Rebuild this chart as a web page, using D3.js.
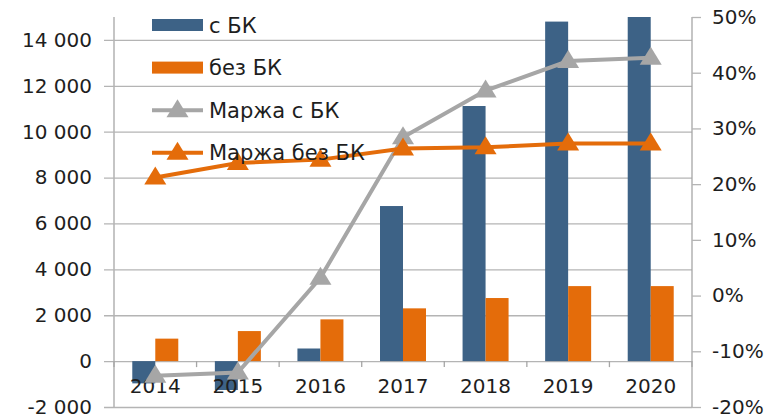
<!DOCTYPE html>
<html>
<head>
<meta charset="utf-8">
<script src="https://cdn.jsdelivr.net/npm/d3@7"></script>
<style>
  body { margin: 0; background: #fff; }
  text { font-family: "DejaVu Sans", sans-serif; fill: #1e1e1e; }
</style>
</head>
<body>
<script>
const years = ['2014', '2015', '2016', '2017', '2018', '2019', '2020']
const withBK = [-970, -1260, 550, 6760, 11120, 14800, 15000]
const withoutBK = [980, 1310, 1820, 2300, 2750, 3270, 3270]
const marginWithBK = [-0.144, -0.138, 0.032, 0.284, 0.368, 0.421, 0.427]
const marginWithoutBK = [0.212, 0.238, 0.244, 0.264, 0.266, 0.273, 0.273]
const leftTicks = [-2000, 0, 2000, 4000, 6000, 8000, 10000, 12000, 14000]
const rightTicks = [-0.2, -0.1, 0, 0.1, 0.2, 0.3, 0.4, 0.5]
const legendNames = ['с БК', 'без БК', 'Маржа с БК', 'Маржа без БК']

const blue = '#3d6286', orange = '#e46c0a', gray = '#a6a6a6'

var width = 773, height = 415
var pl = 114, pr = 692, pt = 17, pb = 407

var svg = d3.select('body').append('svg')
    .attr('width', width)
    .attr('height', height)

var x = d3.scaleBand().domain(years).range([pl, pr])
var y = d3.scaleLinear().domain([-2000, 15000]).range([pb, pt])
var y2 = d3.scaleLinear().domain([-0.2, 0.5]).range([pb, pt])

var ru = d3.formatLocale({decimal: ',', thousands: ' ', grouping: [3], currency: ['', ''], minus: '-'})
var fmtLeft = ru.format(',')
var fmtRight = v => ru.format('.0f')(Math.round(v * 100)) + '%'

// gridlines + left axis
var gy = svg.append('g')
    .attr('transform', 'translate(' + pl + ',0)')
    .call(d3.axisLeft(y).tickValues(leftTicks).tickSize(10).tickPadding(12).tickFormat(fmtLeft))
gy.select('.domain').attr('stroke', '#a6a6a6').attr('stroke-width', 1.3)
  .attr('d', 'M0,' + pt + 'V' + pb)
gy.selectAll('.tick line').attr('stroke', '#b4b4b4').attr('stroke-width', 1.3)
  .attr('x1', pr - pl)
gy.selectAll('.tick text').style('font-size', '20px')

// right axis
var gr = svg.append('g')
    .attr('transform', 'translate(' + pr + ',0)')
    .call(d3.axisRight(y2).tickValues(rightTicks).tickSize(9).tickPadding(11).tickFormat(fmtRight))
gr.select('.domain').attr('stroke', '#a6a6a6').attr('stroke-width', 1.3)
  .attr('d', 'M0,' + pt + 'V' + pb)
gr.selectAll('.tick line').attr('stroke', '#b4b4b4').attr('stroke-width', 1.3)
gr.selectAll('.tick text').style('font-size', '20px')

// category ticks on the zero line
var bounds = years.map(d => x(d)).concat([pr])
svg.append('g').selectAll('line')
  .data(bounds)
  .enter().append('line')
  .attr('x1', d => d).attr('x2', d => d)
  .attr('y1', y(0)).attr('y2', y(0) + 6)
  .attr('stroke', '#a6a6a6').attr('stroke-width', 1.3)

// bars
var bw = 23
var bars = svg.append('g')
bars.selectAll('.b1')
  .data(years)
  .enter().append('rect')
  .attr('fill', blue)
  .attr('x', (d, i) => x(d) + x.bandwidth() / 2 - bw)
  .attr('width', bw)
  .attr('y', (d, i) => y(Math.max(0, withBK[i])))
  .attr('height', (d, i) => Math.abs(y(withBK[i]) - y(0)))
bars.selectAll('.b2')
  .data(years)
  .enter().append('rect')
  .attr('fill', orange)
  .attr('x', (d, i) => x(d) + x.bandwidth() / 2)
  .attr('width', bw)
  .attr('y', (d, i) => y(Math.max(0, withoutBK[i])))
  .attr('height', (d, i) => Math.abs(y(withoutBK[i]) - y(0)))

// category labels
svg.append('g').selectAll('text')
  .data(years)
  .enter().append('text')
  .attr('x', d => x(d) + x.bandwidth() / 2)
  .attr('y', 393)
  .attr('text-anchor', 'middle')
  .style('font-size', '20px')
  .text(d => d)

// lines with triangle markers
var tri = 'M0,-11L11,7L-11,7Z'
function drawLine(vals, color) {
  var g = svg.append('g')
  g.append('path')
    .datum(vals)
    .attr('fill', 'none')
    .attr('stroke', color)
    .attr('stroke-width', 4)
    .attr('d', d3.line()
      .x((d, i) => x(years[i]) + x.bandwidth() / 2)
      .y(d => y2(d)))
  g.selectAll('path.m')
    .data(vals)
    .enter().append('path')
    .attr('class', 'm')
    .attr('fill', color)
    .attr('d', tri)
    .attr('transform', (d, i) => 'translate(' + (x(years[i]) + x.bandwidth() / 2) + ',' + y2(d) + ')')
}
drawLine(marginWithBK, gray)
drawLine(marginWithoutBK, orange)

// legend
var lg = svg.append('g')
var rows = lg.selectAll('g')
  .data(legendNames)
  .enter().append('g')
  .attr('transform', (d, i) => 'translate(152,' + (25 + i * 42.6) + ')')
rows.filter((d, i) => i < 2).append('rect')
  .attr('x', 0).attr('y', -6).attr('width', 51).attr('height', 12)
  .attr('fill', (d, i) => i == 0 ? blue : orange)
rows.filter((d, i) => i >= 2).append('line')
  .attr('x1', 0).attr('x2', 51)
  .attr('stroke', (d, i) => i == 0 ? gray : orange)
  .attr('stroke-width', 4)
rows.filter((d, i) => i >= 2).append('path')
  .attr('d', tri)
  .attr('transform', 'translate(25.5,0)')
  .attr('fill', (d, i) => i == 0 ? gray : orange)
rows.append('text')
  .attr('x', 57)
  .attr('y', 0)
  .attr('dy', '0.36em')
  .style('font-size', '21px')
  .text(d => d)
</script>
</body>
</html>
